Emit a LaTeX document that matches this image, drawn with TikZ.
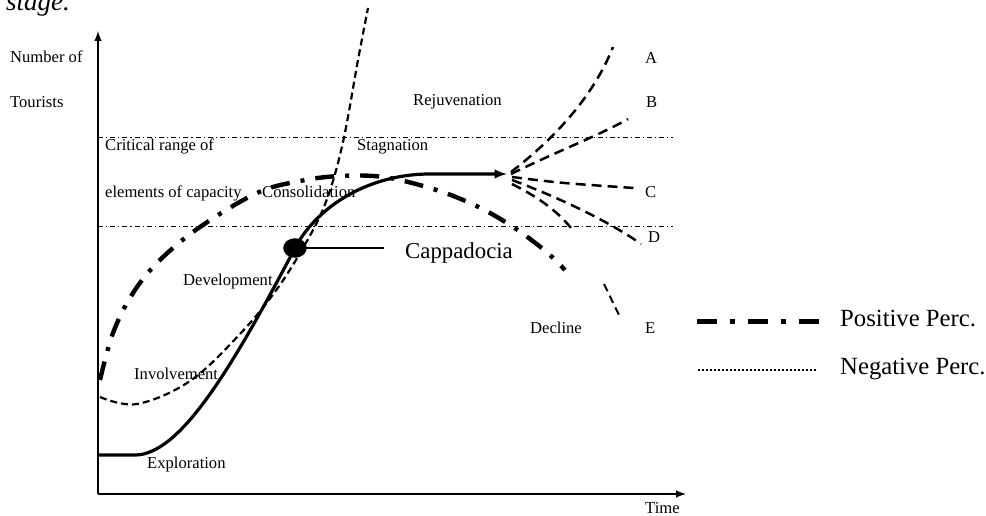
\documentclass[tikz,border=0pt]{standalone}
\usepackage{fontspec}
\setmainfont{Liberation Serif}
\usetikzlibrary{positioning,shapes.geometric}

\tikzset{
  lbl/.style={anchor=west, inner sep=0pt, font=\fontsize{16.6}{18}\selectfont},
  legendtxt/.style={anchor=west, inner sep=0pt, font=\fontsize{24.7}{28}\selectfont},
  axisline/.style={line width=2.4pt, -latex},
  critline/.style={line width=0.9pt, dash pattern=on 5pt off 3pt on 1.2pt off 3pt},
  lifecurve/.style={line width=3.2pt},
  negcurve/.style={line width=2.2pt, dash pattern=on 7pt off 4pt},
  poscurve/.style={line width=4.4pt, dash pattern=on 19pt off 11pt on 4pt off 11pt},
  branch/.style={line width=2.5pt, dash pattern=on 10pt off 6pt},
}

\begin{document}
\begin{tikzpicture}[x=1pt, y=-1pt]
                    \useasboundingbox (0,0) rectangle (986,516);
                    % caption remnant
                    \node[anchor=base west, inner sep=0pt, font=\fontsize{27}{30}\selectfont\itshape] (capt) at (6,11) {stage.};
                    % Axes
                    \coordinate (origin) at (98,494);
                    \coordinate (ytop) at (98,31);
                    \coordinate (xend) at (686,494);
                    \draw[axisline] (origin) -- (ytop);
                    \draw[axisline] (origin) -- (xend);
                    \node[lbl] (ylab1) at (10,57) {Number of};
                    \node[lbl] (ylab2) at (10,102) {Tourists};
                    \node[lbl] (xlab) at (645,508) {Time};
                    % Critical range
                    \coordinate (crit1a) at (98,137);
                    \coordinate (crit1b) at (673,137);
                    \coordinate (crit2a) at (98,226);
                    \coordinate (crit2b) at (673,226);
                    \draw[critline] (crit1a) -- (crit1b);
                    \draw[critline] (crit2a) -- (crit2b);
                    \node[lbl] (crit) at (105,146) {Critical range of};
                    \node[lbl] (elem) at (105,193) {elements of capacity};
                    % Negative perception curve
                    \draw[negcurve] plot[smooth, tension=0.6] coordinates {(100,397) (137,404) (190,381) (240,334) (277,289) (307,241) (327,199) (343,142) (358,60) (368,8)};
                    % Positive perception curve
                    \draw[poscurve] plot[smooth, tension=0.6] coordinates {(100,380) (113,333) (133,293) (160,260) (200,227) (257,193) (300,181) (340,176) (383,177) (430,188) (470,203) (507,223) (543,249) (565,270)};
                    \draw[line width=2pt, dash pattern=on 8pt off 5pt] (604,284) -- (619,315);
                    % Life cycle curve
                    \coordinate (start) at (98,455);
                    \coordinate (flat) at (135,455);
                    \coordinate (peak) at (507,174);
                    \draw[lifecurve, -latex] (start) -- (flat) .. controls (180,455) and (232,368) .. (295,248) .. controls (318,205) and (370,174) .. (430,174) -- (peak);
                    % Branches
                    \draw[branch] (511,172) .. controls (550,142) and (592,100) .. (613,47);
                    \draw[branch] (511,174) .. controls (560,150) and (600,135) .. (628,119);
                    \draw[branch] (512,177) .. controls (560,183) .. (634,188);
                    \draw[branch] (512,180) .. controls (560,198) and (610,222) .. (641,244);
                    \draw[branch] (512,184) .. controls (540,198) and (558,212) .. (571,228);
                    \node[lbl] (brA) at (645,58) {A};
                    \node[lbl] (brB) at (646,102) {B};
                    \node[lbl] (brC) at (645,192) {C};
                    \node[lbl] (brD) at (648,237) {D};
                    \node[lbl] (brE) at (645,328) {E};
                    % Stages
                    \node[lbl] (explo) at (147,465) {Exploration};
                    \node[lbl] (invol) at (134,374) {Involvement};
                    \node[lbl] (devel) at (183,282) {Development};
                    \node[lbl] (conso) at (262,192) {Consolidation};
                    \node[lbl] (stagn) at (357,147) {Stagnation};
                    \node[lbl] (rejuv) at (413,102) {Rejuvenation};
                    \node[lbl] (decl) at (530,328) {Decline};
                    % Cappadocia
                    \node[draw, fill, ellipse, minimum width=23pt, minimum height=19pt, inner sep=0pt] (cap) at (295,248) {};
                    \coordinate (capend) at (384,248);
                    \draw[line width=2.4pt] (cap.center) -- (capend);
                    \node[anchor=west, inner sep=0pt, font=\fontsize{22.8}{26}\selectfont] (cappa) at (405,253) {Cappadocia};
                    % Legend
                    \coordinate (posa) at (697,321);
                    \coordinate (posb) at (819,321);
                    \coordinate (nega) at (698,370);
                    \coordinate (negb) at (817,370);
                    \draw[line width=5pt, dash pattern=on 20pt off 13pt on 5pt off 13pt] (posa) -- (posb);
                    \draw[line width=2.2pt, dash pattern=on 2pt off 2pt] (nega) -- (negb);
                    \node[legendtxt] (posl) at (840,318) {Positive Perc.};
                    \node[legendtxt] (negl) at (840,369) {Negative Perc.};
\end{tikzpicture}
\end{document}
